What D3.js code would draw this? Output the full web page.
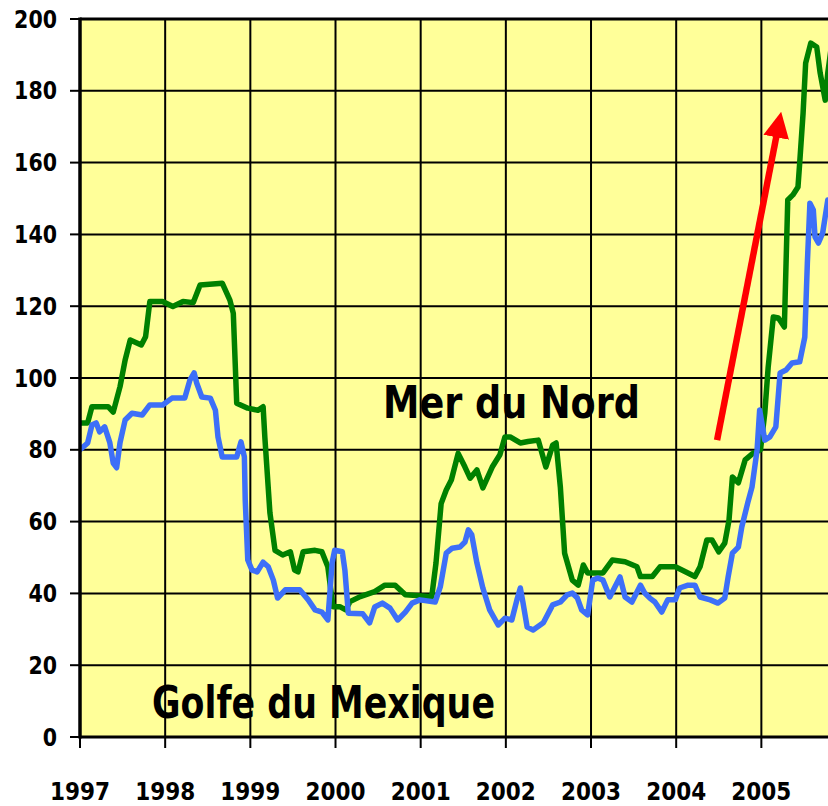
<!DOCTYPE html>
<html>
<head>
<meta charset="utf-8">
<script src="https://cdn.jsdelivr.net/npm/d3@7"></script>
<style>
  html, body { margin: 0; padding: 0; background: #ffffff; }
  svg { display: block; }
</style>
</head>
<body>
<svg id="chart" width="828" height="806"></svg>
<script>
// ---- data ----
const xTickYears = [1997, 1998, 1999, 2000, 2001, 2002, 2003, 2004, 2005];
const yTicks = [0, 20, 40, 60, 80, 100, 120, 140, 160, 180, 200];

// Mer du Nord (green)
const northYears = [1997.00,1997.09,1997.14,1997.33,1997.39,1997.47,1997.53,1997.59,1997.72,1997.77,1997.82,1997.97,1998.09,1998.21,1998.33,1998.41,1998.67,1998.76,1998.80,1998.84,1998.97,1999.09,1999.15,1999.17,1999.23,1999.29,1999.38,1999.47,1999.52,1999.56,1999.62,1999.76,1999.84,1999.91,1999.97,2000.05,2000.12,2000.17,2000.29,2000.46,2000.58,2000.70,2000.82,2001.13,2001.18,2001.24,2001.30,2001.36,2001.44,2001.52,2001.58,2001.66,2001.73,2001.84,2001.93,2001.99,2002.05,2002.17,2002.26,2002.38,2002.47,2002.55,2002.59,2002.64,2002.69,2002.78,2002.85,2002.91,2002.96,2003.14,2003.25,2003.40,2003.54,2003.58,2003.72,2003.81,2003.99,2004.22,2004.28,2004.36,2004.42,2004.50,2004.57,2004.62,2004.66,2004.73,2004.81,2004.90,2004.99,2005.04,2005.08,2005.14,2005.20,2005.27,2005.29,2005.31,2005.37,2005.43,2005.45,2005.49,2005.52,2005.58,2005.65,2005.69,2005.75,2005.78,2005.82];
const northValues = [87.5,87.5,92,92,90.5,97.6,105,110.6,109.2,111.5,121.3,121.3,119.9,121.3,121,125.9,126.4,121.7,118,93,91.6,91,92,83.6,62.4,52,50.7,51.6,46.5,46,51.6,52,51.6,47.4,36.3,36.3,35.4,37.7,39.1,40.5,42.3,42.3,39.6,39.1,48.5,65,68.8,71.6,79,75.2,72.1,74.4,69.4,75.2,78.6,83.6,83.6,81.9,82.3,82.7,75.2,81.3,81.9,69.6,51.2,43.7,42.3,47.9,45.7,45.7,49.3,48.8,47.4,44.7,44.7,47.4,47.4,44.7,47.4,54.9,54.9,51.6,54,60.4,72.4,70.8,77.2,79,80,90.2,103,117,116.7,114.2,132,149.6,151,153.2,159.9,173.8,187.7,193.3,192.2,185,177.4,185,192];

// Golfe du Mexique (blue)
const gulfYears = [1997.00,1997.09,1997.14,1997.19,1997.23,1997.29,1997.35,1997.39,1997.43,1997.47,1997.53,1997.61,1997.73,1997.82,1997.97,1998.08,1998.23,1998.29,1998.34,1998.37,1998.43,1998.53,1998.59,1998.62,1998.67,1998.84,1998.89,1998.93,1998.94,1998.97,1999.02,1999.08,1999.15,1999.21,1999.27,1999.32,1999.41,1999.58,1999.68,1999.76,1999.84,1999.91,1999.96,1999.99,2000.08,2000.11,2000.15,2000.32,2000.40,2000.46,2000.55,2000.64,2000.73,2000.82,2000.90,2000.99,2001.17,2001.23,2001.30,2001.37,2001.46,2001.52,2001.56,2001.60,2001.66,2001.73,2001.81,2001.91,2001.99,2002.07,2002.13,2002.17,2002.20,2002.25,2002.32,2002.44,2002.55,2002.64,2002.72,2002.78,2002.84,2002.89,2002.96,2003.02,2003.08,2003.14,2003.22,2003.28,2003.34,2003.40,2003.48,2003.58,2003.63,2003.69,2003.75,2003.83,2003.90,2003.99,2004.04,2004.14,2004.22,2004.28,2004.40,2004.49,2004.57,2004.61,2004.66,2004.73,2004.77,2004.84,2004.89,2004.95,2004.98,2005.04,2005.10,2005.17,2005.22,2005.29,2005.36,2005.45,2005.51,2005.54,2005.57,2005.61,2005.63,2005.67,2005.72,2005.78];
const gulfValues = [80,81.9,86.9,87.5,85,86.4,82,76.3,75,82,88.3,90.2,89.7,92.5,92.5,94.4,94.4,99.4,101.4,98.6,94.7,94.4,91,83.6,78,78,82.2,78,66,49.3,46.5,46,48.7,47.4,43.7,38.7,41,41,38.2,35.4,34.8,32.6,48.5,52,51.6,46.5,34.5,34.3,31.8,36.2,37.3,35.9,32.6,34.8,37.3,38.2,37.6,41.8,51.2,52.6,52.9,54.3,57.7,56.3,48.5,41.5,35.4,31.2,33.1,32.6,38.2,41.5,37.6,30.6,29.8,31.8,36.8,37.6,39.6,40.1,38.7,35.4,34,43.7,44.3,43.7,39,41.8,44.6,39,37.6,42.3,40.1,38.7,37.6,34.8,38.2,38.2,41.5,42.3,42.3,39,38.2,37.3,38.7,44.6,51.2,52.9,58.5,65.2,69.6,80,91.1,82.7,83.6,86.4,101.4,102.2,104.2,104.5,111.4,132,148.7,146.8,139.3,137.6,140.4,149.6];

// red trend arrow (start and tip, in data units)
const arrowYears = [2004.48, 2005.20];
const arrowValues = [82.7, 170.7];

const labelNorth = "Mer du Nord";
const labelGulf = "Golfe du Mexique";

// ---- drawing ----
(function () {
const svg = d3.select("#chart");
const pLeft = 80, pTop = 19, pBottom = 737, pRight = 828;
const x = d3.scaleLinear().domain([1997, 1997 + (pRight - pLeft) / 85.17]).range([pLeft, pRight]);
const y = d3.scaleLinear().domain([0, 200]).range([pBottom, pTop]);
const FONT = "'DejaVu Sans', 'Liberation Sans', sans-serif";

// background
svg.append("rect").attr("x", pLeft).attr("y", pTop)
  .attr("width", pRight - pLeft).attr("height", pBottom - pTop)
  .attr("fill", "#ffff99");

// grid lines
const grid = svg.append("g");
grid.selectAll("line.h").data(yTicks.filter(d => d > 0 && d < 200)).enter().append("line")
  .attr("x1", pLeft).attr("x2", pRight)
  .attr("y1", d => y(d)).attr("y2", d => y(d))
  .attr("stroke", "#000").attr("stroke-width", 2);
grid.selectAll("line.v").data(xTickYears.filter(d => d > 1997)).enter().append("line")
  .attr("y1", pTop).attr("y2", pBottom)
  .attr("x1", d => x(d)).attr("x2", d => x(d))
  .attr("stroke", "#000").attr("stroke-width", 2);

// clip for series
svg.append("clipPath").attr("id", "clip").append("rect")
  .attr("x", pLeft).attr("y", pTop - 10).attr("width", pRight - pLeft).attr("height", pBottom - pTop + 10);

const line = d3.line().x(d => x(d[0])).y(d => y(d[1]));
const north = northYears.map((t, i) => [t, northValues[i]]);
const gulf = gulfYears.map((t, i) => [t, gulfValues[i]]);

const series = svg.append("g").attr("clip-path", "url(#clip)");
series.append("path").datum(north).attr("d", line)
  .attr("fill", "none").attr("stroke", "#008000").attr("stroke-width", 5.5)
  .attr("stroke-linejoin", "round").attr("stroke-linecap", "round");
series.append("path").datum(gulf).attr("d", line)
  .attr("fill", "none").attr("stroke", "#3d6ff8").attr("stroke-width", 5.5)
  .attr("stroke-linejoin", "round").attr("stroke-linecap", "round");

// red arrow
const defs = svg.append("defs");
defs.append("marker").attr("id", "arrowhead")
  .attr("viewBox", "0 0 10 10").attr("refX", 2).attr("refY", 5)
  .attr("markerWidth", 4).attr("markerHeight", 4.2)
  .attr("orient", "auto").attr("markerUnits", "strokeWidth")
  .append("path").attr("d", "M0,0 L10,5 L0,10 z").attr("fill", "#ff0000");
svg.append("line")
  .attr("x1", x(arrowYears[0])).attr("y1", y(arrowValues[0]))
  .attr("x2", x(arrowYears[1]) - 1.2).attr("y2", y(arrowValues[1]) + 8)
  .attr("stroke", "#ff0000").attr("stroke-width", 6.5)
  .attr("marker-end", "url(#arrowhead)");

// axes lines
svg.append("line").attr("x1", pLeft).attr("x2", pRight).attr("y1", pTop).attr("y2", pTop)
  .attr("stroke", "#000").attr("stroke-width", 3);
svg.append("line").attr("x1", pLeft).attr("x2", pRight).attr("y1", pBottom).attr("y2", pBottom)
  .attr("stroke", "#000").attr("stroke-width", 3);
svg.append("line").attr("x1", pLeft).attr("x2", pLeft).attr("y1", pTop - 1.5).attr("y2", pBottom + 1.5)
  .attr("stroke", "#000").attr("stroke-width", 3.5);

// y ticks
const yAxis = svg.append("g");
yAxis.selectAll("line").data(yTicks).enter().append("line")
  .attr("x1", 70).attr("x2", pLeft).attr("y1", d => y(d)).attr("y2", d => y(d))
  .attr("stroke", "#000").attr("stroke-width", 2);
yAxis.selectAll("text").data(yTicks).enter().append("text")
  .attr("x", 57).attr("y", d => y(d) + 8.5)
  .attr("text-anchor", "end")
  .attr("font-family", FONT).attr("font-weight", "bold").attr("font-size", 24)
  .attr("textLength", d => String(d).length * 14.3)
  .attr("lengthAdjust", "spacingAndGlyphs")
  .text(d => d);

// x ticks
const xAxis = svg.append("g");
xAxis.selectAll("line").data(xTickYears).enter().append("line")
  .attr("x1", d => x(d)).attr("x2", d => x(d)).attr("y1", pBottom).attr("y2", 748)
  .attr("stroke", "#000").attr("stroke-width", 2);
xAxis.selectAll("text").data(xTickYears).enter().append("text")
  .attr("x", d => x(d)).attr("y", 800)
  .attr("text-anchor", "middle")
  .attr("font-family", FONT).attr("font-weight", "bold").attr("font-size", 25)
  .attr("textLength", 60).attr("lengthAdjust", "spacingAndGlyphs")
  .text(d => d);

// series labels
svg.append("text").attr("x", 383).attr("y", 418)
  .attr("font-family", FONT).attr("font-weight", "bold").attr("font-size", 45)
  .attr("textLength", 257).attr("lengthAdjust", "spacingAndGlyphs")
  .text(labelNorth);
svg.append("text").attr("x", 152).attr("y", 718)
  .attr("font-family", FONT).attr("font-weight", "bold").attr("font-size", 45)
  .attr("textLength", 343).attr("lengthAdjust", "spacingAndGlyphs")
  .text(labelGulf);
})();
</script>
</body>
</html>
